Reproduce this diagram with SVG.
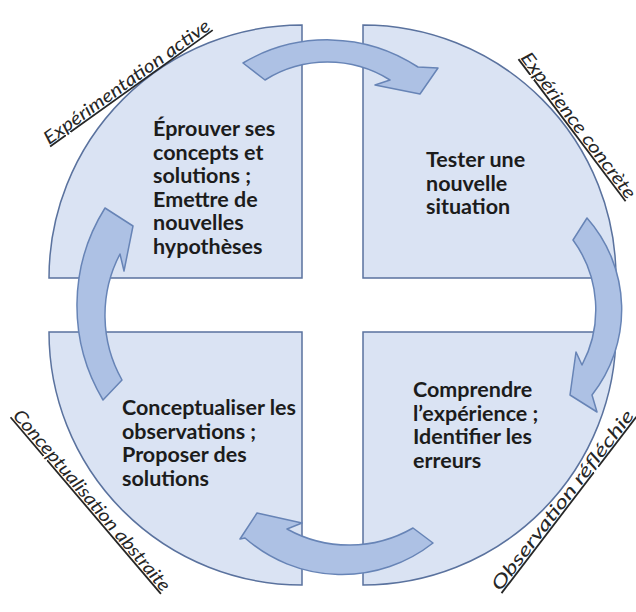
<svg xmlns="http://www.w3.org/2000/svg" width="636" height="612" viewBox="0 0 636 612">
<style>
.q{fill:#dae3f3;stroke:#5a729e;stroke-width:1.5}
.ar{fill:#adc1e4;stroke:#6784b6;stroke-width:1.5;stroke-linejoin:round}
.t{font-family:Lato,"Liberation Sans",sans-serif;font-weight:bold;font-size:21.5px;fill:#1c1c1c}
.lb{font-family:Lato,"Liberation Sans",sans-serif;font-style:italic;font-size:18px;fill:#262626;text-decoration:underline}
</style>
<rect width="636" height="612" fill="#ffffff"/>
<g id="q-experimentation">
<path class="q" d="M302,278 L49,278 A253,253 0 0 1 302,25 Z"/>
<text class="t"><tspan x="153" y="136">Éprouver ses</tspan><tspan x="153" y="159.5">concepts et</tspan><tspan x="153" y="183">solutions ;</tspan><tspan x="153" y="206.5">Emettre de</tspan><tspan x="153" y="230">nouvelles</tspan><tspan x="153" y="253.5">hypothèses</tspan></text>
</g>
<g id="q-experience">
<path class="q" d="M363,278 L363,25 A253,253 0 0 1 616,278 Z"/>
<text class="t"><tspan x="426" y="167">Tester une</tspan><tspan x="426" y="190.5">nouvelle</tspan><tspan x="426" y="214">situation</tspan></text>
</g>
<g id="q-observation">
<path class="q" d="M363,332 L616,332 A253,253 0 0 1 363,585 Z"/>
<text class="t"><tspan x="413" y="397">Comprendre</tspan><tspan x="413" y="420.5">l’expérience ;</tspan><tspan x="413" y="444">Identifier les</tspan><tspan x="413" y="467.5">erreurs</tspan></text>
</g>
<g id="q-conceptualisation">
<path class="q" d="M302,332 L302,585 A253,253 0 0 1 49,332 Z"/>
<text class="t"><tspan x="122" y="415">Conceptualiser les</tspan><tspan x="122" y="438.5">observations ;</tspan><tspan x="122" y="462">Proposer des</tspan><tspan x="122" y="485.5">solutions</tspan></text>
</g>
<g id="connectors">
<path class="ar" d="M243,63 A165,165 0 0 1 418,67 L438,68 L420,94 L375,85 L390,80 A118,118 0 0 0 265,80 Z"/>
<path class="ar" d="M587,218 A138,138 0 0 1 592,395 L597,412 L570,395 L576,352 L582,365 A118,118 0 0 0 573,240 Z"/>
<path class="ar" d="M433,543 A147,147 0 0 1 245,538 L240,539 L257,513 L302,523 L287,529 A128,128 0 0 0 413,528 Z"/>
<path class="ar" d="M103,400 A184,184 0 0 1 105,208 L133,226 L124,271 L120,254 A132,132 0 0 0 122,380 Z"/>
</g>
<g id="labels">
<text class="lb" transform="translate(49,145) rotate(-35.6)" textLength="200" lengthAdjust="spacingAndGlyphs">Expérimentation active</text>
<text class="lb" transform="translate(520,58) rotate(53)" textLength="178" lengthAdjust="spacingAndGlyphs">Expérience concrète</text>
<text class="lb" transform="translate(500,592) rotate(-52.6)" textLength="222" lengthAdjust="spacingAndGlyphs">Observation réfléchie</text>
<text class="lb" transform="translate(12,416) rotate(49.6)" textLength="232" lengthAdjust="spacingAndGlyphs">Conceptualisation abstraite</text>
</g>
</svg>
